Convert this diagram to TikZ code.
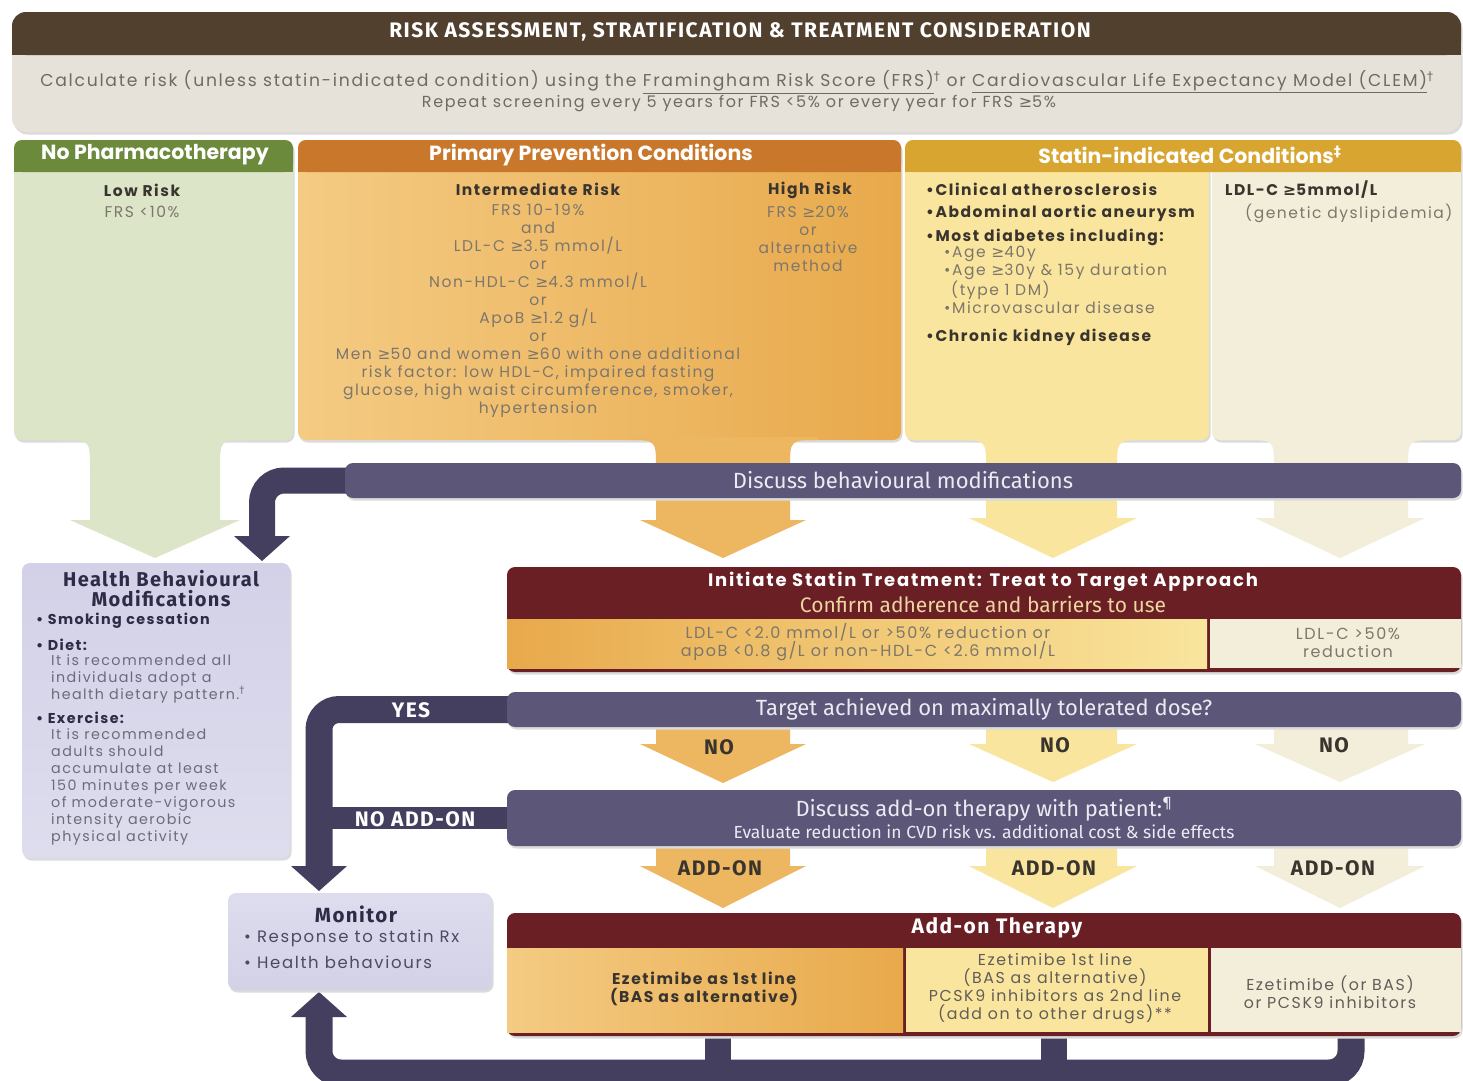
\documentclass[tikz,border=0pt]{standalone}
\usepackage{fontspec}
\setmainfont{Poppins}
\newfontfamily\widefont[LetterSpace=10]{Poppins}
\newfontfamily\condfont{Fira Sans}
\newfontfamily\headfont[LetterSpace=7]{Fira Sans}
\newfontfamily\symfont{DejaVu Sans}
\usetikzlibrary{arrows.meta, positioning, calc, backgrounds}

\definecolor{titlebrown}{HTML}{52402F}
\definecolor{screengrey}{HTML}{E7E2D9}
\definecolor{nophgreen}{HTML}{6C8A3C}
\definecolor{nophlight}{HTML}{DDE5C9}
\definecolor{primorange}{HTML}{C9772A}
\definecolor{primlight}{HTML}{F4CB83}
\definecolor{primdark}{HTML}{E8A94B}
\definecolor{primarrow}{HTML}{EDB660}
\definecolor{statgold}{HTML}{D8A530}
\definecolor{statyellow}{HTML}{F9E59D}
\definecolor{statcream}{HTML}{F3EEDA}
\definecolor{barpurple}{HTML}{5C5679}
\definecolor{bandpurple}{HTML}{443E5F}
\definecolor{boxlav}{HTML}{D2D1E7}
\definecolor{boxlavlow}{HTML}{DEDDEE}
\definecolor{maroon}{HTML}{6A1F25}
\definecolor{txtgrey}{HTML}{7D766B}
\definecolor{txtdark}{HTML}{3A342F}
\definecolor{hbdark}{HTML}{2E2A47}
\definecolor{hbgrey}{HTML}{6E6A7C}
\definecolor{confirmtxt}{HTML}{EDD4A0}
\definecolor{bartxt}{HTML}{ECEAF2}

\newcommand{\geqs}{{\symfont ≥}}
\newcommand{\dagsup}{\textsuperscript{\symfont †}}
% block arrow hanging under a box: style, box bottom, shaft l/r, head l/r, head y, tip y
\newcommand{\colarrow}[8]{%
  \path[#1] (#3-28,#2-3) -- (#3-28,#2) .. controls (#3,#2) .. (#3,#2+28)
    -- (#3,#7) -- (#5,#7) -- ({(#5+#6)/2},#8) -- (#6,#7) -- (#4,#7)
    -- (#4,#2+28) .. controls (#4,#2) .. (#4+28,#2) -- (#4+28,#2-3) -- cycle;}
% short arrow under a bar
\newcommand{\stubarrow}[8]{%
  \path[#1] (#3,#2-3) -- (#3,#7) -- (#5,#7) -- ({(#5+#6)/2},#8)
    -- (#6,#7) -- (#4,#7) -- (#4,#2-3) -- cycle;}

\begin{document}
\begin{tikzpicture}[x=1pt, y=-1pt,
  softshadow/.style={preaction={fill=black!14, transform canvas={xshift=1.5pt, yshift=-2.5pt}}},
  titletxt/.style={font=\headfont\bfseries\fontsize{21}{22}\selectfont, text=white},
  screentxt/.style={font=\widefont\fontsize{16}{20}\selectfont, text=txtgrey!90!black},
  colhead/.style={font=\bfseries\fontsize{20.5}{22}\selectfont, text=white},
  riskhead/.style={font=\widefont\bfseries\fontsize{15.5}{18}\selectfont, text=txtdark},
  crit/.style={font=\widefont\fontsize{15.5}{18}\selectfont, text=txtgrey, align=center},
  listbold/.style={font=\widefont\bfseries\fontsize{15.5}{18}\selectfont, text=txtdark, anchor=west, inner sep=0pt},
  listtxt/.style={font=\widefont\fontsize{15.5}{18}\selectfont, text=txtgrey, anchor=west, inner sep=0pt},
  purplebar/.style={fill=barpurple, rounded corners=8, text=bartxt, inner sep=0pt,
    font=\condfont\fontsize{22}{25}\selectfont, softshadow},
  band/.style={draw=bandpurple, line width=27pt},
  fatarrow/.style={-{Triangle[length=25pt, width=56pt, line width=0pt]}},
  bandlbl/.style={font=\headfont\bfseries\fontsize{21}{22}\selectfont, text=white},
  arrowlbl/.style={font=\headfont\bfseries\fontsize{21}{22}\selectfont, text=txtdark},
  boxtitle/.style={font=\widefont\bfseries\fontsize{18}{20}\selectfont, text=white},
  hbtitle/.style={font=\headfont\bfseries\fontsize{20}{20}\selectfont, text=hbdark, align=center},
  hbbold/.style={font=\widefont\bfseries\fontsize{14.3}{17}\selectfont, text=hbdark, anchor=west, inner sep=0pt},
  hbtext/.style={font=\widefont\fontsize{14.3}{17}\selectfont, text=hbgrey, align=left, anchor=north west, inner sep=0pt},
  montxt/.style={font=\widefont\fontsize{16.5}{17}\selectfont, text=hbdark!85, anchor=west, inner sep=0pt},
  celltxt/.style={font=\widefont\fontsize{15.8}{18}\selectfont, text=txtdark!80, align=center}]

\useasboundingbox (0,0) rectangle (1463,1080);
\begin{scope}[on background layer]
  \fill[white] (0,0) rectangle (1463,1080);
\end{scope}

% screening banner
\fill[screengrey, rounded corners=14, softshadow] (12,12) rectangle (1461,132);
\fill[titlebrown, rounded corners=14] (12,12) rectangle (1461,55);
\fill[titlebrown] (12,35) rectangle (1461,55);

% column boxes
\fill[nophlight, rounded corners=8, softshadow] (14,140) rectangle (293,440);
\fill[nophgreen, rounded corners=8] (14,140) rectangle (293,172);
\fill[nophgreen] (14,160) rectangle (293,172);
\shade[left color=primlight, right color=primdark, rounded corners=8, softshadow] (298,140) rectangle (901,440);
\fill[primorange, rounded corners=8] (298,140) rectangle (901,172);
\fill[primorange] (298,160) rectangle (901,172);
\fill[statyellow, rounded corners=8, softshadow] (905,140) rectangle (1209,440);
\fill[statcream, rounded corners=8, softshadow] (1212,140) rectangle (1461,440);
\fill[statgold, rounded corners=8] (905,140) rectangle (1461,172);
\fill[statgold] (905,160) rectangle (1461,172);

% arrows out of the columns
\colarrow{fill=nophlight}{440}{90}{220}{70}{240}{520}{558}
\colarrow{fill=primarrow}{440}{656}{790}{640}{806}{520}{558}
\colarrow{fill=statyellow}{440}{986}{1117}{969}{1137}{518}{558}
\colarrow{fill=statcream}{440}{1274}{1408}{1255}{1425}{518}{558}

% side boxes
\shade[top color=boxlav, bottom color=boxlavlow, rounded corners=8, softshadow] (22,563) rectangle (290,858);
\shade[top color=boxlavlow, bottom color=boxlav, rounded corners=8, softshadow] (228,893) rectangle (492,990);

% statin box
\fill[maroon, rounded corners=8, softshadow] (507,567) rectangle (1461,672);
\shade[left color=primdark, right color=statyellow] (507,619) rectangle (1207,668);
\fill[statcream] (1210,619) rectangle (1461,668);

% NO and ADD-ON arrows
\stubarrow{fill=primarrow}{727}{656}{790}{640}{806}{744}{783}
\stubarrow{fill=statyellow}{727}{986}{1117}{969}{1137}{744}{782}
\stubarrow{fill=statcream}{727}{1274}{1408}{1255}{1425}{744}{782}
\stubarrow{fill=primarrow}{846}{656}{790}{640}{806}{866}{908}
\stubarrow{fill=statyellow}{846}{986}{1117}{969}{1137}{866}{908}
\stubarrow{fill=statcream}{846}{1274}{1408}{1255}{1425}{866}{908}

% add-on box
\fill[maroon, rounded corners=8, softshadow] (507,913) rectangle (1461,1036);
\shade[left color=primlight, right color=primdark] (507,948) rectangle (903,1032);
\fill[statyellow] (906,948) rectangle (1208,1032);
\fill[statcream] (1211,948) rectangle (1461,1032);

% purple bars
\node[purplebar, minimum width=1116pt, minimum height=35pt] (behbar) at (903,480.5) {Discuss behavioural modifications};
\node[purplebar, minimum width=954pt, minimum height=35pt] (tgtbar) at (984,709.5) {Target achieved on maximally tolerated dose?};
\node[purplebar, minimum width=954pt, minimum height=56pt, align=center] (addbar) at (984,818)
  {Discuss add-on therapy with patient:\textsuperscript{\symfont ¶}\\[-3pt]
   {\fontsize{17.5}{18}\selectfont Evaluate reduction in CVD risk vs. additional cost \& side effects}};

\coordinate (hbtop) at (262,561);
\coordinate (montop) at (319,891);
\coordinate (monbot) at (319,992);
\coordinate (loopy) at (0,1073);

\begin{scope}[on background layer]
  \draw[band, line width=26pt, rounded corners=22, fatarrow] ([xshift=12pt]behbar.west) -| (hbtop);
  \draw[band, line width=27pt, rounded corners=20, fatarrow] ([xshift=12pt]tgtbar.west) -| (montop);
  \draw[band, line width=22pt] ([xshift=12pt]addbar.west) -- (addbar.west -| montop);
  \draw[band, line width=27pt, rounded corners=22, fatarrow] (1351,1030) |- (loopy -| monbot) -- (monbot);
  \draw[band, line width=26pt] (718,1030) -- (718,1073);
  \draw[band, line width=26pt] (1054,1030) -- (1054,1073);
\end{scope}

% banner text
\node[titletxt] (title) at (740,32) {RISK ASSESSMENT, STRATIFICATION \& TREATMENT CONSIDERATION};
\node[screentxt, font=\widefont\fontsize{17.2}{20}\selectfont] (calc) at (737,82) {Calculate risk (unless statin-indicated condition) using the \underline{Framingham Risk Score (FRS)}\dagsup{} or \underline{Cardiovascular Life Expectancy Model (CLEM)}\dagsup};
\node[screentxt] (repeat) at (739,104) {Repeat screening every 5 years for FRS <5\% or every year for FRS \geqs5\%};

% column headers
\node[colhead] (nophhead) at (155,155) {No Pharmacotherapy};
\node[colhead] (primhead) at (591,155) {Primary Prevention Conditions};
\node[colhead] (stathead) at (1190,155) {Statin-indicated Conditions\textsuperscript{\symfont ‡}};

% column contents
\node[riskhead] (lowrisk) at (142,190) {Low Risk};
\node[crit] (lowfrs) at (142,212) {FRS <10\%};
\node[riskhead] (intrisk) at (538,189) {Intermediate Risk};
\node[crit] (intcrit) at (538,311) {FRS 10-19\%\\and\\LDL-C \geqs3.5 mmol/L\\or\\Non-HDL-C \geqs4.3 mmol/L\\or\\ApoB \geqs1.2 g/L\\or\\Men \geqs50 and women \geqs60 with one additional\\risk factor: low HDL-C, impaired fasting\\glucose, high waist circumference, smoker,\\hypertension};
\node[riskhead] (highrisk) at (810,190) {High Risk};
\node[crit] (highcrit) at (808,239) {FRS \geqs20\%\\or\\alternative\\method};
\node[listbold] (clin) at (926,189) {•Clinical atherosclerosis};
\node[listbold] (aaa) at (926,213) {•Abdominal aortic aneurysm};
\node[listbold] (diab) at (926,237) {•Most diabetes including:};
\node[listtxt] (age40) at (944,254) {•Age \geqs40y};
\node[listtxt] (age30) at (944,272) {•Age \geqs30y \& 15y duration};
\node[listtxt] (type1) at (951,290) {(type 1 DM)};
\node[listtxt] (micro) at (944,308) {•Microvascular disease};
\node[listbold] (ckd) at (926,337) {•Chronic kidney disease};
\node[listbold] (ldl5) at (1225,190) {LDL-C \geqs5mmol/L};
\node[listtxt] (genetic) at (1245,213) {(genetic dyslipidemia)};

% health behaviour box
\node[hbtitle] (hbtitle) at (161,589) {Health Behavioural\\Modifications};
\node[hbbold] (smoke) at (36,621) {• Smoking cessation};
\node[hbbold] (diet) at (36,645) {• Diet:};
\node[hbtext] (diettxt) at (51,654) {It is recommended all\\individuals adopt a\\health dietary pattern.\dagsup};
\node[hbbold] (exer) at (36,718) {• Exercise:};
\node[hbtext] (exertxt) at (51,728) {It is recommended\\adults should\\accumulate at least\\150 minutes per week\\of moderate-vigorous\\intensity aerobic\\physical activity};

% monitor box
\node[hbtitle, font=\headfont\bfseries\fontsize{20.5}{20}\selectfont] (montitle) at (356,914) {Monitor};
\node[montxt] (monresp) at (244,938) {• Response to statin Rx};
\node[montxt] (monhealth) at (244,962) {• Health behaviours};

% statin treatment box
\node[boxtitle] (inittitle) at (983,582) {Initiate Statin Treatment: Treat to Target Approach};
\node[font=\condfont\fontsize{21}{22}\selectfont, text=confirmtxt] (confirm) at (983,604) {Confirm adherence and barriers to use};
\node[crit, font=\widefont\fontsize{16}{18}\selectfont] (tgtA) at (868,642) {LDL-C <2.0 mmol/L or >50\% reduction or\\apoB <0.8 g/L or non-HDL-C <2.6 mmol/L};
\node[crit, font=\widefont\fontsize{16}{18}\selectfont] (tgtB) at (1348,643) {LDL-C >50\%\\reduction};

% decision labels
\node[bandlbl] (yes) at (411,710) {YES};
\node[bandlbl] (noaddon) at (415,819) {NO ADD-ON};
\node[arrowlbl] (noA) at (719,747) {NO};
\node[arrowlbl] (noB) at (1055,745) {NO};
\node[arrowlbl] (noC) at (1334,745) {NO};
\node[arrowlbl] (addA) at (720,868) {ADD-ON};
\node[arrowlbl] (addB) at (1054,868) {ADD-ON};
\node[arrowlbl] (addC) at (1333,868) {ADD-ON};

% add-on therapy box
\node[titletxt] (addtitle) at (997,928) {Add-on Therapy};
\node[celltxt, font=\widefont\bfseries\fontsize{15.6}{18}\selectfont, text=txtdark] (ezeA) at (704,989) {Ezetimibe as 1st line\\(BAS as alternative)};
\node[celltxt] (ezeB) at (1055,989) {Ezetimibe 1st line\\(BAS as alternative)\\PCSK9 inhibitors as 2nd line\\(add on to other drugs)**};
\node[celltxt] (ezeC) at (1330,992) {Ezetimibe (or BAS)\\or PCSK9 inhibitors};
\end{tikzpicture}
\end{document}
